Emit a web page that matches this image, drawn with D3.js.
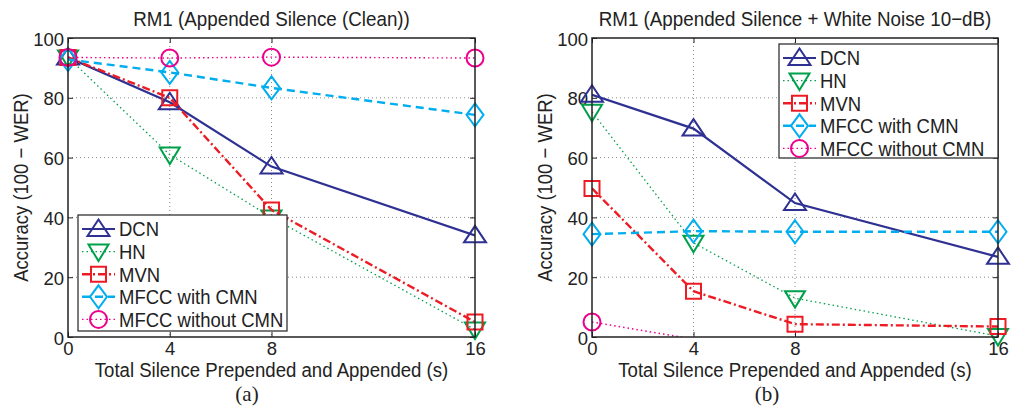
<!DOCTYPE html>
<html>
<head>
<meta charset="utf-8">
<script src="https://cdn.jsdelivr.net/npm/d3@7"></script>
<style>
  html, body { margin: 0; padding: 0; background: #fff; }
  svg text { font-family: "Liberation Sans", Arial, Helvetica, sans-serif; fill: #222; }
</style>
</head>
<body>
<svg id="fig" width="1011" height="409"></svg>
<script>
// Silence durations (s) on the x axis
const silence = [0, 4, 8, 16];
const xTicks = [0, 4, 8, 16];
const yTicks = [0, 20, 40, 60, 80, 100];
const seriesNames = ["DCN", "HN", "MVN", "MFCC with CMN", "MFCC without CMN"];

// Panel (a): clean speech with appended silence, accuracy = 100 - WER
const cleanDCN   = [93.5, 78.5, 57.0, 34.0];
const cleanHN    = [93.5, 61.0, 40.0, 2.5];
const cleanMVN   = [93.5, 80.0, 42.5, 5.0];
const cleanCMN   = [92.8, 88.5, 83.3, 74.3];
const cleanNoCMN = [93.5, 93.3, 93.6, 93.3];

// Panel (b): appended silence plus 10 dB white noise
const noisyDCN   = [81.0, 69.7, 44.8, 26.8];
const noisyHN    = [75.3, 31.5, 13.0, 0.3];
const noisyMVN   = [49.7, 15.3, 4.3, 3.5];
const noisyCMN   = [34.4, 35.4, 35.2, 35.2];
const noisyNoCMN = [5.0, -0.7, -1.5, -2.0];

const styles = [
  { color: "#2e3192", width: 2.2, dash: null,        marker: "up" },
  { color: "#00a04a", width: 1.3, dash: "1.5,3",     marker: "down" },
  { color: "#ed1c24", width: 2.4, dash: "8,3,2,3",   marker: "square" },
  { color: "#00aeef", width: 2.4, dash: "8,5",       marker: "diamond" },
  { color: "#ec008c", width: 1.4, dash: "1.5,3",     marker: "circle" }
];

const svg = d3.select("#fig");

function markerPath(type) {
  switch (type) {
    case "up":      return "M0,-9.5 L11,7 L-11,7 Z";
    case "down":    return "M0,9.5 L10,-7 L-10,-7 Z";
    case "square":  return "M-7.5,-7.5 H7.5 V7.5 H-7.5 Z";
    case "diamond": return "M0,-11.5 L8.5,0 L0,11.5 L-8.5,0 Z";
    case "circle":  return d3.arc()({ innerRadius: 0, outerRadius: 8.5, startAngle: 0, endAngle: 2 * Math.PI });
  }
}

// text drawn slightly tall (vertical stretch)
function label(g, x, y, str, size, anchor, rotate, stretch) {
  return g.append("text")
    .attr("transform", `translate(${x},${y})${rotate ? " rotate(" + rotate + ")" : ""} scale(1,${stretch || 1.1})`)
    .attr("text-anchor", anchor || "start").attr("font-size", size).text(str);
}

function drawPanel(opt) {
  const { left, right, top, bottom, title, series, legend, caption, captionX, id } = opt;
  const g = svg.append("g");
  const x = d3.scaleLinear().domain([0, 16]).range([left, right]);
  const y = d3.scaleLinear().domain([0, 100]).range([bottom, top]);

  g.append("clipPath").attr("id", id).append("rect")
    .attr("x", left).attr("y", top).attr("width", right - left).attr("height", bottom - top);

  // dotted grid
  g.append("g").selectAll("line").data(xTicks.filter(d => d > 0 && d < 16)).join("line")
    .attr("x1", d => x(d)).attr("x2", d => x(d)).attr("y1", top).attr("y2", bottom)
    .attr("stroke", "#8a8a8a").attr("stroke-width", 1).attr("stroke-dasharray", "1,3");
  g.append("g").selectAll("line").data(yTicks.filter(d => d > 0 && d < 100)).join("line")
    .attr("x1", left).attr("x2", right).attr("y1", d => y(d)).attr("y2", d => y(d))
    .attr("stroke", "#8a8a8a").attr("stroke-width", 1).attr("stroke-dasharray", "1,3");

  // axes via d3 axis generators, ticks pointing inward
  const axB = d3.axisBottom(x).tickValues(xTicks).tickSize(-5).tickPadding(5).tickSizeOuter(0);
  const axT = d3.axisTop(x).tickValues(xTicks).tickSize(-5).tickFormat("").tickSizeOuter(0);
  const axL = d3.axisLeft(y).tickValues(yTicks).tickSize(-5).tickPadding(4).tickSizeOuter(0);
  const axR = d3.axisRight(y).tickValues(yTicks).tickSize(-5).tickFormat("").tickSizeOuter(0);
  const gb = g.append("g").attr("transform", `translate(0,${bottom})`).call(axB);
  const gt = g.append("g").attr("transform", `translate(0,${top})`).call(axT);
  const gl = g.append("g").attr("transform", `translate(${left},0)`).call(axL);
  const gr = g.append("g").attr("transform", `translate(${right},0)`).call(axR);
  [gb, gt, gl, gr].forEach(a => {
    a.select(".domain").remove();
    a.selectAll("line").attr("stroke", "#222").attr("stroke-width", 1);
    a.selectAll("text").attr("font-size", 18.5).attr("fill", "#222")
      .attr("font-family", "'Liberation Sans', Arial, sans-serif");
  });
  gl.selectAll("text").attr("dy", "0.38em");

  // series lines and markers
  series.forEach((vals, i) => {
    const st = styles[i];
    const pts = silence.map((s, k) => [s, vals[k]]);
    g.append("path").datum(pts)
      .attr("clip-path", `url(#${id})`)
      .attr("d", d3.line().x(d => x(d[0])).y(d => y(d[1])))
      .attr("fill", "none").attr("stroke", st.color).attr("stroke-width", st.width)
      .attr("stroke-dasharray", st.dash);
    g.append("g").selectAll("path").data(pts.filter(d => d[1] >= 0 && d[1] <= 100)).join("path")
      .attr("transform", d => `translate(${x(d[0])},${y(d[1])})`)
      .attr("d", markerPath(st.marker))
      .attr("fill", "none").attr("stroke", st.color).attr("stroke-width", 2);
  });

  // box
  g.append("rect").attr("x", left).attr("y", top).attr("width", right - left).attr("height", bottom - top)
    .attr("fill", "none").attr("stroke", "#222").attr("stroke-width", 1.5);

  // title and axis labels
  label(g, (left + right) / 2, 26, title, 18.8, "middle");
  label(g, (left + right) / 2, 377, "Total Silence Prepended and Appended (s)", 18.6, "middle", null, 1.05);
  label(g, left - 40, (top + bottom) / 2, "Accuracy (100 − WER)", 18.5, "middle", -90);
  g.append("text").attr("x", captionX).attr("y", 401).attr("text-anchor", "middle")
    .attr("font-size", 21).style("font-family", "'Liberation Serif', 'DejaVu Serif', serif").text(caption);

  // legend
  const L = legend;
  const lg = g.append("g");
  lg.append("rect").attr("x", L.x).attr("y", L.y).attr("width", L.w).attr("height", L.h)
    .attr("fill", "#fff").attr("stroke", "#222").attr("stroke-width", 1.2);
  seriesNames.forEach((name, i) => {
    const st = styles[i];
    const cy = L.y + 14 + i * 22.6;
    lg.append("line").attr("x1", L.x + 4).attr("x2", L.x + 37).attr("y1", cy).attr("y2", cy)
      .attr("stroke", st.color).attr("stroke-width", st.width).attr("stroke-dasharray", st.dash);
    lg.append("path").attr("transform", `translate(${L.x + 20.5},${cy})`).attr("d", markerPath(st.marker))
      .attr("fill", "none").attr("stroke", st.color).attr("stroke-width", 2);
    label(lg, L.x + 41, cy + 7.4, name, 18.5, "start");
  });
}

drawPanel({
  id: "clipA", left: 68, right: 475, top: 38, bottom: 337,
  title: "RM1 (Appended Silence (Clean))",
  series: [cleanDCN, cleanHN, cleanMVN, cleanCMN, cleanNoCMN],
  legend: { x: 78, y: 215, w: 209, h: 116 },
  caption: "(a)", captionX: 247
});
drawPanel({
  id: "clipB", left: 592, right: 998, top: 38, bottom: 337,
  title: "RM1 (Appended Silence + White Noise 10−dB)",
  series: [noisyDCN, noisyHN, noisyMVN, noisyCMN, noisyNoCMN],
  legend: { x: 779, y: 44, w: 219, h: 114 },
  caption: "(b)", captionX: 767
});
</script>
</body>
</html>
